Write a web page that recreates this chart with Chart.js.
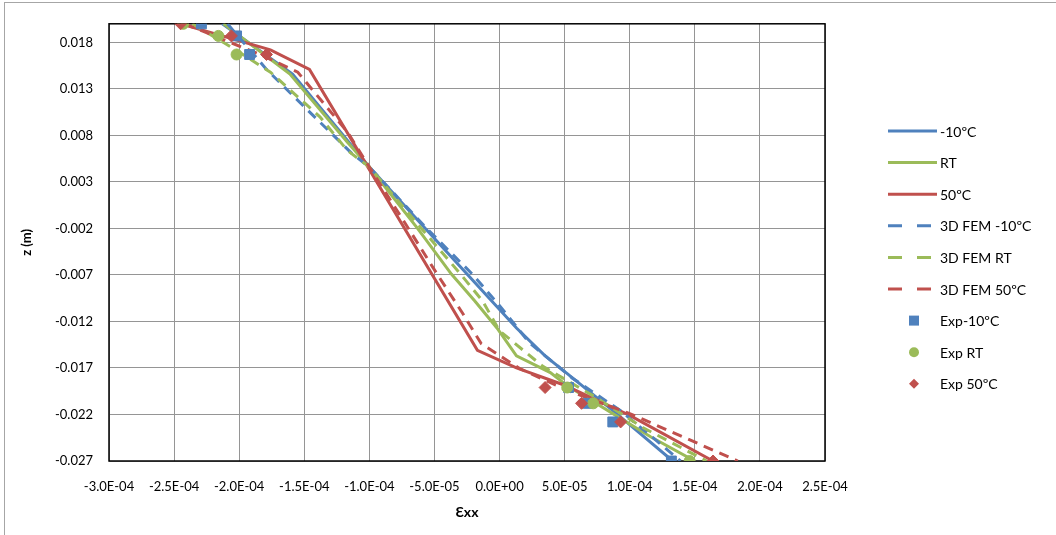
<!DOCTYPE html>
<html>
<head>
<meta charset="utf-8">
<script src="https://cdn.jsdelivr.net/npm/chart.js@4.4.1/dist/chart.umd.min.js"></script>
<style>
  html, body { margin: 0; padding: 0; background: #fff; overflow: hidden; }
  #wrap { position: relative; width: 1056px; height: 535px; overflow: hidden; }
  #frame { position: absolute; left: 4px; top: 2px; width: 1200px; height: 700px; border-top: 1px solid #a6a6a6; border-left: 1px solid #a6a6a6; }
  #chart { position: absolute; left: 0; top: 0; }
</style>
</head>
<body>
<div id="wrap">
  <div id="frame"></div>
  <canvas id="chart" width="1056" height="535"></canvas>
</div>
<script>
// tick values and labels
const xTicks = [-3.0e-4, -2.5e-4, -2.0e-4, -1.5e-4, -1.0e-4, -5.0e-5, 0, 5.0e-5, 1.0e-4, 1.5e-4, 2.0e-4, 2.5e-4];
const xTickLabels = ['-3.0E-04', '-2.5E-04', '-2.0E-04', '-1.5E-04', '-1.0E-04', '-5.0E-05', '0.0E+00', '5.0E-05', '1.0E-04', '1.5E-04', '2.0E-04', '2.5E-04'];
const yTicks = [-0.027, -0.022, -0.017, -0.012, -0.007, -0.002, 0.003, 0.008, 0.013, 0.018];
const yTickLabels = ['-0.027', '-0.022', '-0.017', '-0.012', '-0.007', '-0.002', '0.003', '0.008', '0.013', '0.018'];

// model, solid lines
const zSolidCold = [0.020, 0.0146, 0.0046, -0.002, -0.0069, -0.0127, -0.0157, -0.0176, -0.0218, -0.027];
const xSolidCold = [-2.13e-4, -1.59e-4, -1.00e-4, -0.57e-4, -0.25e-4, 0.13e-4, 0.35e-4, 0.52e-4, 0.89e-4, 1.33e-4];
const zSolidRT = [0.020, 0.0146, 0.0073, 0.0046, -0.002, -0.0069, -0.0098, -0.0127, -0.0157, -0.0175, -0.0189, -0.0244, -0.027];
const xSolidRT = [-2.12e-4, -1.61e-4, -1.17e-4, -1.00e-4, -0.63e-4, -0.37e-4, -0.19e-4, -0.02e-4, 0.13e-4, 0.39e-4, 0.52e-4, 1.16e-4, 1.50e-4];
const zSolidHot = [0.020, 0.0172, 0.0151, -0.0151, -0.0170, -0.0188, -0.0221, -0.027];
const xSolidHot = [-2.45e-4, -1.76e-4, -1.46e-4, -0.17e-4, 0.13e-4, 0.49e-4, 1.00e-4, 1.64e-4];

// 3D FEM, dashed lines
const zFemCold = [0.020, 0.0151, 0.0108, 0.0060, 0.0046, -0.002, -0.0069, -0.0103, -0.0143, -0.0181, -0.0216, -0.0251, -0.027];
const xFemCold = [-2.09e-4, -1.79e-4, -1.48e-4, -1.13e-4, -1.00e-4, -0.56e-4, -0.21e-4, 0.00e-4, 0.23e-4, 0.56e-4, 0.93e-4, 1.23e-4, 1.39e-4];
const zFemRT = [0.020, 0.0174, 0.0148, 0.0100, 0.0064, 0.0046, -0.002, -0.0069, -0.0098, -0.0130, -0.0168, -0.0200, -0.0234, -0.027];
const xFemRT = [-2.36e-4, -2.05e-4, -1.76e-4, -1.38e-4, -1.17e-4, -1.00e-4, -0.60e-4, -0.30e-4, -0.13e-4, 0.00e-4, 0.33e-4, 0.72e-4, 1.10e-4, 1.59e-4];
const zFemHot = [0.020, 0.0167, 0.0148, 0.0084, 0.0046, -0.002, -0.0069, -0.0112, -0.0144, -0.0171, -0.0194, -0.0219, -0.027];
const xFemHot = [-2.42e-4, -1.84e-4, -1.55e-4, -1.17e-4, -1.00e-4, -0.70e-4, -0.48e-4, -0.28e-4, -0.14e-4, 0.16e-4, 0.52e-4, 1.00e-4, 1.83e-4];

// experimental points
const zExpCold = [0.020, 0.0187, 0.0167, -0.0191, -0.0208, -0.0228, -0.027];
const xExpCold = [-2.29e-4, -2.02e-4, -1.92e-4, 0.53e-4, 0.68e-4, 0.87e-4, 1.32e-4];
const zExpRT = [0.020, 0.0187, 0.0167, -0.0191, -0.0208, -0.027];
const xExpRT = [-2.43e-4, -2.16e-4, -2.02e-4, 0.52e-4, 0.72e-4, 1.46e-4];
const zExpHot = [0.020, 0.0187, 0.0167, -0.0191, -0.0208, -0.0228, -0.027];
const xExpHot = [-2.45e-4, -2.06e-4, -1.79e-4, 0.35e-4, 0.63e-4, 0.93e-4, 1.64e-4];

const BLUE = '#4F81BD';
const GREEN = '#9BBB59';
const RED = '#C0504D';

function pts(xs, zs) {
    return xs.map((x, i) => ({ x: x, y: zs[i] }));
}

function lineSet(label, xs, zs, color, dashed) {
    return {
        label: label,
        data: pts(xs, zs),
        showLine: true,
        borderColor: color,
        backgroundColor: color,
        borderWidth: 3,
        borderDash: dashed ? [10, 7] : [],
        pointRadius: 0,
        pointHoverRadius: 0,
        tension: 0,
        legendDashed: dashed
    };
}

function markSet(label, xs, zs, color, style, radius) {
    return {
        label: label,
        data: pts(xs, zs),
        showLine: false,
        borderColor: color,
        backgroundColor: color,
        pointStyle: style,
        pointRadius: radius,
        pointBorderWidth: 1
    };
}

const datasets = [
    lineSet('-10ºC', xSolidCold, zSolidCold, BLUE, false),
    lineSet('RT', xSolidRT, zSolidRT, GREEN, false),
    lineSet('50ºC', xSolidHot, zSolidHot, RED, false),
    lineSet('3D FEM -10ºC', xFemCold, zFemCold, BLUE, true),
    lineSet('3D FEM RT', xFemRT, zFemRT, GREEN, true),
    lineSet('3D FEM 50ºC', xFemHot, zFemHot, RED, true),
    markSet('Exp-10ºC', xExpCold, zExpCold, BLUE, 'rect', 7),
    markSet('Exp RT', xExpRT, zExpRT, GREEN, 'circle', 5.5),
    markSet('Exp 50ºC', xExpHot, zExpHot, RED, 'rectRot', 6)
];
// later series on top, like the original
datasets.forEach((d, i) => { d.order = datasets.length - i; });

const FONT = "Lato, 'Liberation Sans', sans-serif";

// plot frame
const framePlugin = {
    id: 'plotFrame',
    beforeDatasetsDraw(chart) {
        const a = chart.chartArea;
        const ctx = chart.ctx;
        ctx.save();
        ctx.strokeStyle = '#000';
        ctx.lineWidth = 1.5;
        ctx.strokeRect(a.left, a.top, a.right - a.left, a.bottom - a.top);
        ctx.restore();
    }
};

// legend on the right
const legendPlugin = {
    id: 'sideLegend',
    afterDraw(chart) {
        const ctx = chart.ctx;
        ctx.save();
        ctx.font = '14px ' + FONT;
        ctx.textBaseline = 'middle';
        ctx.textAlign = 'left';
        chart.data.datasets.forEach((d, i) => {
            const y = 131 + i * 31.6;
            ctx.strokeStyle = d.borderColor;
            ctx.fillStyle = d.backgroundColor;
            if (d.showLine) {
                ctx.lineWidth = 3;
                ctx.setLineDash(d.legendDashed ? [14, 15] : []);
                ctx.beginPath();
                ctx.moveTo(888, y);
                ctx.lineTo(937, y);
                ctx.stroke();
                ctx.setLineDash([]);
            } else {
                const cx = 914;
                ctx.beginPath();
                if (d.pointStyle === 'rect') {
                    ctx.rect(cx - 5, y - 5, 10, 10);
                } else if (d.pointStyle === 'circle') {
                    ctx.arc(cx, y, 5, 0, Math.PI * 2);
                } else {
                    ctx.moveTo(cx, y - 5);
                    ctx.lineTo(cx + 5, y);
                    ctx.lineTo(cx, y + 5);
                    ctx.lineTo(cx - 5, y);
                    ctx.closePath();
                }
                ctx.fill();
            }
            ctx.fillStyle = '#000';
            ctx.fillText(d.label, 940, y + 1);
        });
        ctx.restore();
    }
};

window.addEventListener('load', () => {
    const ctx = document.getElementById('chart').getContext('2d');
    new Chart(ctx, {
        type: 'scatter',
        data: { datasets: datasets },
        options: {
            responsive: false,
            animation: false,
            layout: { padding: { left: 0, right: 231, top: 21, bottom: 0 } },
            plugins: {
                legend: { display: false },
                tooltip: { enabled: false }
            },
            scales: {
                x: {
                    type: 'linear',
                    min: -3.0e-4,
                    max: 2.5e-4,
                    afterBuildTicks: (scale) => {
                        scale.ticks = xTicks.map(v => ({ value: v }));
                    },
                    afterFit: (scale) => { scale.height = 74; },
                    grid: { color: '#959595', lineWidth: 1, drawTicks: false },
                    border: { display: false },
                    ticks: {
                        autoSkip: false,
                        maxRotation: 0,
                        padding: 18,
                        color: '#000',
                        font: { family: FONT, size: 13 },
                        callback: (value, index) => xTickLabels[index]
                    },
                    title: {
                        display: true,
                        text: 'Ɛxx',
                        color: '#000',
                        font: { family: FONT, size: 14, weight: 'bold' },
                        padding: { top: 0, bottom: 14 }
                    }
                },
                y: {
                    type: 'linear',
                    min: -0.027,
                    max: 0.020,
                    afterBuildTicks: (scale) => {
                        scale.ticks = yTicks.map(v => ({ value: v }));
                    },
                    afterFit: (scale) => { scale.width = 109; },
                    grid: { color: '#959595', lineWidth: 1, drawTicks: false },
                    border: { display: false },
                    ticks: {
                        padding: 16,
                        color: '#000',
                        font: { family: FONT, size: 13 },
                        callback: (value, index) => yTickLabels[index]
                    },
                    title: {
                        display: true,
                        text: 'z (m)',
                        color: '#000',
                        font: { family: FONT, size: 13, weight: 'bold' },
                        padding: { top: 19, bottom: 0 }
                    }
                }
            }
        },
        plugins: [framePlugin, legendPlugin]
    });
});
</script>
</body>
</html>
